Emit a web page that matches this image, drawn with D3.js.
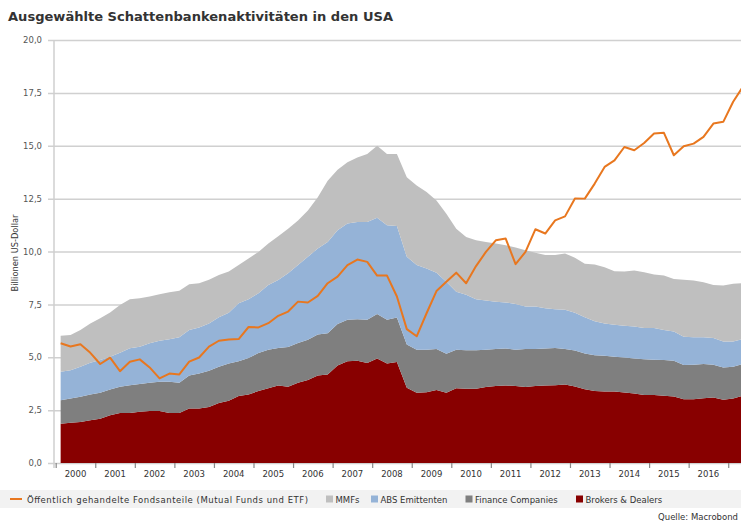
<!DOCTYPE html>
<html>
<head>
<meta charset="utf-8">
<script src="https://cdn.jsdelivr.net/npm/d3@7/dist/d3.min.js"></script>
<style>
 body { margin: 0; background: #fff; }
 svg { font-family: "DejaVu Sans", Verdana, sans-serif; display: block; }
</style>
</head>
<body>
<svg width="741" height="523"></svg>
<script>
// The svg
var svg = d3.select("svg"),
 width = +svg.attr("width"),
 height = +svg.attr("height");

// Data: quarterly, 2000Q1 .. 2017Q2 (Billionen US-Dollar)
var quarters = ("2000Q1 2000Q2 2000Q3 2000Q4 2001Q1 2001Q2 2001Q3 2001Q4 2002Q1 2002Q2 2002Q3 2002Q4 " +
 "2003Q1 2003Q2 2003Q3 2003Q4 2004Q1 2004Q2 2004Q3 2004Q4 2005Q1 2005Q2 2005Q3 2005Q4 " +
 "2006Q1 2006Q2 2006Q3 2006Q4 2007Q1 2007Q2 2007Q3 2007Q4 2008Q1 2008Q2 2008Q3 2008Q4 " +
 "2009Q1 2009Q2 2009Q3 2009Q4 2010Q1 2010Q2 2010Q3 2010Q4 2011Q1 2011Q2 2011Q3 2011Q4 " +
 "2012Q1 2012Q2 2012Q3 2012Q4 2013Q1 2013Q2 2013Q3 2013Q4 2014Q1 2014Q2 2014Q3 2014Q4 " +
 "2015Q1 2015Q2 2015Q3 2015Q4 2016Q1 2016Q2 2016Q3 2016Q4 2017Q1 2017Q2").split(" ");

var brokers = [1.86,1.90,1.94,2.02,2.09,2.26,2.37,2.37,2.42,2.46,2.46,2.37,2.37,2.58,2.58,2.65,
 2.84,2.94,3.17,3.24,3.40,3.53,3.67,3.60,3.79,3.92,4.14,4.18,4.61,4.81,4.84,4.73,4.94,4.70,4.78,
 3.56,3.32,3.35,3.45,3.32,3.53,3.51,3.51,3.59,3.64,3.67,3.64,3.59,3.64,3.67,3.68,3.71,3.62,3.49,
 3.41,3.38,3.38,3.33,3.29,3.22,3.21,3.18,3.14,3.02,3.02,3.06,3.10,2.99,3.05,3.18];

var finance = [1.11,1.15,1.19,1.22,1.23,1.22,1.23,1.31,1.31,1.33,1.38,1.47,1.42,1.56,1.65,1.71,
 1.71,1.77,1.64,1.73,1.80,1.83,1.77,1.89,1.88,1.91,1.93,1.96,1.96,1.96,1.96,2.04,2.10,2.07,2.10,
 2.04,2.04,2.01,1.94,1.85,1.83,1.82,1.82,1.77,1.75,1.74,1.72,1.80,1.75,1.74,1.76,1.68,1.70,1.69,
 1.69,1.69,1.64,1.66,1.65,1.69,1.67,1.69,1.69,1.61,1.62,1.62,1.54,1.53,1.50,1.50];

var absEmittenten = [1.34,1.34,1.42,1.50,1.55,1.54,1.61,1.74,1.77,1.87,1.94,2.01,2.15,2.15,2.18,2.24,
 2.34,2.39,2.74,2.77,2.83,3.06,3.21,3.48,3.69,3.92,4.07,4.31,4.43,4.55,4.59,4.62,4.56,4.47,4.33,
 4.15,4.00,3.84,3.61,3.40,2.74,2.62,2.41,2.32,2.24,2.18,2.16,2.01,2.01,1.91,1.83,1.85,1.78,1.71,
 1.60,1.53,1.52,1.50,1.51,1.47,1.50,1.42,1.39,1.34,1.30,1.26,1.27,1.23,1.20,1.18];

var mmfs = [1.71,1.66,1.74,1.86,1.97,2.10,2.26,2.32,2.29,2.21,2.20,2.22,2.20,2.16,2.09,2.06,
 2.00,1.95,1.81,1.93,1.95,1.96,2.07,2.11,2.11,2.19,2.43,2.90,2.86,2.90,3.06,3.22,3.40,3.37,3.40,
 3.76,3.76,3.61,3.41,3.22,2.98,2.74,2.79,2.77,2.75,2.71,2.67,2.66,2.54,2.51,2.56,2.67,2.60,2.53,
 2.68,2.66,2.53,2.56,2.65,2.64,2.53,2.57,2.48,2.69,2.69,2.61,2.51,2.64,2.72,2.64];

var fonds = [5.66,5.51,5.61,5.21,4.68,4.98,4.34,4.79,4.90,4.52,4.00,4.23,4.19,4.79,4.99,5.50,
 5.78,5.84,5.86,6.43,6.41,6.61,6.96,7.16,7.63,7.59,7.90,8.50,8.81,9.36,9.62,9.51,8.86,8.86,7.87,
 6.33,5.99,7.08,8.13,8.57,9.00,8.50,9.31,9.98,10.53,10.61,9.40,9.98,11.05,10.85,11.47,11.66,12.51,12.50,
 13.21,14.00,14.31,14.94,14.79,15.13,15.58,15.61,14.55,14.98,15.10,15.42,16.05,16.13,17.08,17.80];

var years = ["2000","2001","2002","2003","2004","2005","2006","2007","2008","2009","2010",
 "2011","2012","2013","2014","2015","2016"];
var yTicks = [0, 2.5, 5, 7.5, 10, 12.5, 15, 17.5, 20];

var keys = ["brokers", "finance", "abs", "mmfs"];
var colors = { brokers: "#880000", finance: "#7f7f7f", abs: "#95b3d7", mmfs: "#bfbfbf" };
var lineColor = "#e8771f";

var table = quarters.map(function (q, i) {
 return { t: +q.slice(0, 4) + (+q.slice(5) - 0.5) / 4,
  brokers: brokers[i], finance: finance[i], abs: absEmittenten[i], mmfs: mmfs[i], fonds: fonds[i] };
});

// Scales
var x = d3.scaleLinear().domain([2000, 2018]).range([55.7, 55.7 + 18 * 39.56]);
var y = d3.scaleLinear().domain([0, 20]).range([463, 40]);

// Title
svg.append("text")
 .attr("x", 8).attr("y", 21)
 .attr("font-size", 12.5).attr("font-weight", "bold").attr("fill", "#333")
 .attr("textLength", 385).attr("lengthAdjust", "spacingAndGlyphs")
 .text("Ausgewählte Schattenbankenaktivitäten in den USA");

// Grid + y axis
var yAxis = svg.append("g")
 .attr("transform", "translate(54,0)")
 .call(d3.axisLeft(y).tickValues(yTicks).tickSize(6).tickPadding(6)
  .tickFormat(function (d) { return d3.format(".1f")(d).replace(".", ","); }));
yAxis.select(".domain").remove();
yAxis.selectAll(".tick line").attr("stroke", "#d0d0d0").attr("stroke-width", 1.5)
 .attr("x1", -6).attr("x2", width);
yAxis.selectAll(".tick text").attr("font-size", 8.5).attr("fill", "#555")
 .attr("font-family", "DejaVu Sans");

// Stacked areas
var stack = d3.stack().keys(keys);
var area = d3.area()
 .x(function (d) { return x(d.data.t); })
 .y0(function (d) { return y(d[0]); })
 .y1(function (d) { return y(d[1]); });

svg.append("g").selectAll("path")
 .data(stack(table))
 .enter().append("path")
 .attr("fill", function (d) { return colors[d.key]; })
 .attr("d", area);

// Axis lines
svg.append("line").attr("x1", 54).attr("x2", 54).attr("y1", 40).attr("y2", 468)
 .attr("stroke", "#cfcfcf").attr("stroke-width", 1.5);

var xAxis = svg.append("g")
 .attr("transform", "translate(0,463)")
 .call(d3.axisBottom(x).tickValues(d3.range(2000, 2018)).tickSize(5).tickFormat(""));
xAxis.select(".domain").remove();
xAxis.selectAll(".tick line").attr("stroke", "#888").attr("stroke-width", 1.2);

svg.append("g").selectAll("text")
 .data(years)
 .enter().append("text")
 .attr("x", function (d) { return x(+d + 0.5); })
 .attr("y", 477)
 .attr("text-anchor", "middle")
 .attr("font-size", 8.5).attr("fill", "#333")
 .text(function (d) { return d; });

// Line
var line = d3.line()
 .x(function (d) { return x(d.t); })
 .y(function (d) { return y(d.fonds); });
svg.append("path")
 .datum(table)
 .attr("fill", "none").attr("stroke", lineColor).attr("stroke-width", 2)
 .attr("stroke-linejoin", "round")
 .attr("d", line);

// Y axis title
svg.append("text")
 .attr("transform", "translate(18,253) rotate(-90)")
 .attr("text-anchor", "middle")
 .attr("font-size", 8.5).attr("fill", "#333")
 .attr("textLength", 77).attr("lengthAdjust", "spacingAndGlyphs")
 .text("Billionen US-Dollar");

// Legend
var lg = svg.append("g");
lg.append("rect").attr("x", 0).attr("y", 490).attr("width", width).attr("height", 18).attr("fill", "#f2f2f2");
lg.append("line").attr("x1", 10).attr("x2", 22).attr("y1", 499).attr("y2", 499)
 .attr("stroke", lineColor).attr("stroke-width", 2);
lg.append("text").attr("x", 27).attr("y", 502.5).attr("font-size", 8.5).attr("fill", "#333")
 .attr("textLength", 281).attr("lengthAdjust", "spacing")
 .text("Öffentlich gehandelte Fondsanteile (Mutual Funds und ETF)");

var legendItems = [
 { key: "mmfs", label: "MMFs", x: 326 },
 { key: "abs", label: "ABS Emittenten", x: 371 },
 { key: "finance", label: "Finance Companies", x: 465.5 },
 { key: "brokers", label: "Brokers & Dealers", x: 576 }
];
legendItems.forEach(function (d) {
 lg.append("rect").attr("x", d.x).attr("y", 495.5).attr("width", 7).attr("height", 7)
  .attr("fill", colors[d.key]);
 lg.append("text").attr("x", d.x + 9.5).attr("y", 502.5).attr("font-size", 8.5).attr("fill", "#333")
  .text(d.label);
});

// Source
svg.append("text").attr("x", 738).attr("y", 520).attr("text-anchor", "end")
 .attr("font-size", 8.5).attr("fill", "#333")
 .text("Quelle: Macrobond");
</script>
</body>
</html>
